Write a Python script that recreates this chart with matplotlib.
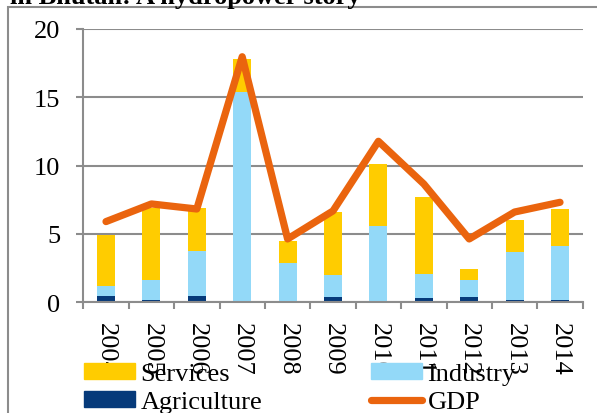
import matplotlib
matplotlib.use("Agg")
import matplotlib.pyplot as plt
from matplotlib.patches import Rectangle
from matplotlib.lines import Line2D

years = ["2004", "2005", "2006", "2007", "2008", "2009", "2010", "2011", "2012", "2013", "2014"]
agriculture = [0.44, 0.17, 0.46, 0.10, 0.03, 0.39, 0.05, 0.29, 0.41, 0.17, 0.17]
industry = [0.78, 1.43, 3.29, 15.30, 2.82, 1.58, 5.53, 1.81, 1.22, 3.51, 3.93]
services = [3.73, 5.30, 3.15, 2.38, 1.65, 4.66, 4.52, 5.62, 0.81, 2.36, 2.70]
gdp = [5.90, 7.19, 6.82, 17.95, 4.63, 6.68, 11.77, 8.65, 4.63, 6.60, 7.31]
yticks = [0, 5, 10, 15, 20]
title = "in Bhutan: A hydropower story"

plt.rcParams['font.family'] = ['Liberation Serif', 'DejaVu Serif']

W, H = 597, 414
fig = plt.figure(figsize=(W / 100, H / 100), dpi=100)
ax = fig.add_axes([83.3 / W, 1 - 303.3 / H, (582.7 - 83.3) / W, (303.3 - 29.7) / H])

c_serv = "#FFCC00"
c_ind = "#93D9F8"
c_agr = "#063A7A"
c_gdp = "#EA640E"
gray = "#8C8C8C"

x = list(range(len(years)))
bw = 0.40
ax.bar(x, agriculture, bw, color=c_agr, zorder=2)
bot1 = agriculture
ax.bar(x, industry, bw, bottom=bot1, color=c_ind, zorder=2)
bot2 = [a + b for a, b in zip(agriculture, industry)]
ax.bar(x, services, bw, bottom=bot2, color=c_serv, zorder=2)
ax.plot(x, gdp, color=c_gdp, lw=5.2, solid_capstyle='round', solid_joinstyle='round', zorder=3)

ax.set_xlim(-0.5, len(years) - 0.5)
ax.set_ylim(0, 20)
ax.set_yticks(yticks)
ax.set_yticklabels([str(v) for v in yticks])
ax.yaxis.grid(True, color=gray, lw=1.5, zorder=0)
ax.set_axisbelow(True)

ax.set_xticks(x)
ax.set_xticklabels(years, rotation=270)
ax.set_xticks([i - 0.5 for i in range(len(years) + 1)], minor=True)
ax.tick_params(axis='x', which='major', length=0, pad=14, labelsize=19)
ax.tick_params(axis='x', which='minor', length=5, width=1.5, color=gray, direction='out')
ax.tick_params(axis='y', length=5, width=1.5, color=gray, pad=11.5, labelsize=19)

for s in ['top', 'right']:
    ax.spines[s].set_visible(False)
for s in ['left', 'bottom']:
    ax.spines[s].set_color(gray)
    ax.spines[s].set_linewidth(1.5)

handles = [Rectangle((0, 0), 1, 1, color=c_serv), Rectangle((0, 0), 1, 1, color=c_agr),
           Rectangle((0, 0), 1, 1, color=c_ind), Line2D([0], [0], color=c_gdp, lw=5.2, solid_capstyle='round')]
labels = ["Services", "Agriculture", "Industry", "GDP"]
leg = fig.legend(handles, labels, ncol=2, loc='upper left', bbox_to_anchor=(84 / W, 1 - 364 / H),
                 frameon=False, fontsize=19, handlelength=1.95, handleheight=0.55,
                 handletextpad=0.2, columnspacing=4.1, labelspacing=0.22, borderaxespad=0, borderpad=0)

fig.patches.append(Rectangle((8.3 / W, -0.1), 1.2, 1.1 - 7.8 / H, transform=fig.transFigure,
                             fill=False, edgecolor=gray, lw=1.5))
fig.text(10 / W, 1 - 4 / H, title, fontsize=19, fontweight='bold', va='baseline', ha='left')

fig.savefig("out.png", dpi=100)
